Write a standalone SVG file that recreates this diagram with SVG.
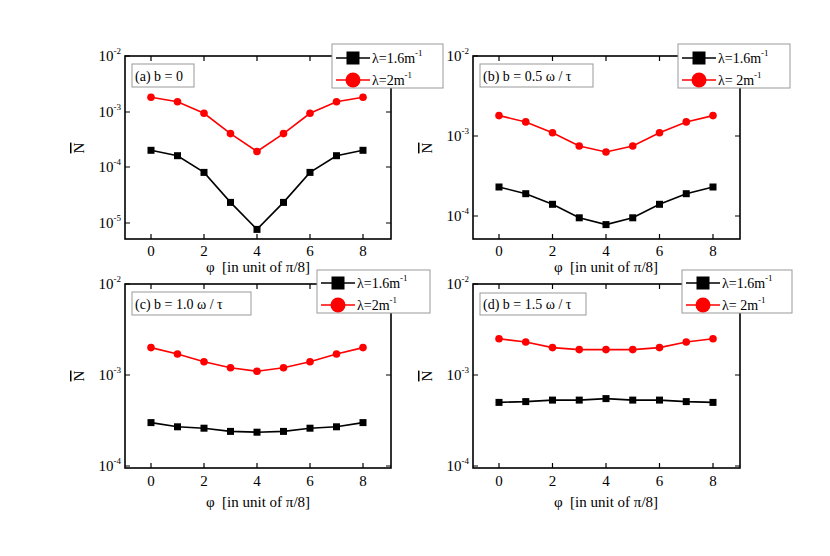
<svg xmlns="http://www.w3.org/2000/svg" width="830" height="556" viewBox="0 0 830 556">
<style>
text{font-family:"Liberation Serif","Times New Roman",serif;fill:#000}
.t{font-size:14px}
.yl{font-size:15px;text-anchor:end}
.xl{font-size:15px;text-anchor:middle}
.sup{font-size:9px}
.frame{fill:none;stroke:#000;stroke-width:1.6}
.tick{stroke:#000;stroke-width:1.2}
.ann{fill:#fff;stroke:#999;stroke-width:1}
.leg{fill:#fff;stroke:#999;stroke-width:1}
.bl{fill:none;stroke:#000;stroke-width:1.6}
.rl{fill:none;stroke:#f00;stroke-width:1.6}
.lab{font-size:15px;text-anchor:middle;white-space:pre}
</style>
<rect width="830" height="556" fill="#fff"/>
<defs>
<rect id="sq" x="-3.5" y="-3.5" width="7" height="7" fill="#000"/>
<circle id="ci" r="3.8" fill="#f00"/>
<rect id="sqL" x="-6.5" y="-6.5" width="13" height="13" fill="#000"/>
<circle id="ciL" r="7.5" fill="#f00"/>
</defs>

<g id="panel-a">
<rect class="frame" x="125" y="56" width="266" height="183"/>
<path class="tick" d="M125,56h5M125,112h5M125,167h5M125,223h5M391,56h-5M391,112h-5M391,167h-5M391,223h-5M151,239v-5M204,239v-5M257,239v-5M310,239v-5M363,239v-5M151,56v5M204,56v5M257,56v5M310,56v5M363,56v5"/>
<text class="yl" x="121" y="61">10<tspan class="sup" dy="-7">-2</tspan></text>
<text class="yl" x="121" y="117">10<tspan class="sup" dy="-7">-3</tspan></text>
<text class="yl" x="121" y="172">10<tspan class="sup" dy="-7">-4</tspan></text>
<text class="yl" x="121" y="228">10<tspan class="sup" dy="-7">-5</tspan></text>
<text class="xl" x="151" y="256">0</text><text class="xl" x="204" y="256">2</text><text class="xl" x="257" y="256">4</text><text class="xl" x="310" y="256">6</text><text class="xl" x="363" y="256">8</text>
<text class="lab" x="258" y="272">φ  [in unit of π/8]</text>
<text class="lab" transform="translate(84,148) rotate(-90)" text-decoration="overline">N</text>
<rect class="ann" x="132" y="64" width="62" height="23"/>
<text class="t" x="135" y="81">(a) b = 0</text>
<polyline class="rl" points="151,97.3 177.5,101.7 204,113.3 230.5,133.6 257,151.5 283.5,133.6 310,113.3 336.5,101.7 363,97.3"/>
<g><use href="#ci" x="151" y="97.3"/><use href="#ci" x="177.5" y="101.7"/><use href="#ci" x="204" y="113.3"/><use href="#ci" x="230.5" y="133.6"/><use href="#ci" x="257" y="151.5"/><use href="#ci" x="283.5" y="133.6"/><use href="#ci" x="310" y="113.3"/><use href="#ci" x="336.5" y="101.7"/><use href="#ci" x="363" y="97.3"/></g>
<polyline class="bl" points="151,150.3 177.5,155.7 204,172.4 230.5,202.4 257,229.4 283.5,202.4 310,172.4 336.5,155.7 363,150.3"/>
<g><use href="#sq" x="151" y="150.3"/><use href="#sq" x="177.5" y="155.7"/><use href="#sq" x="204" y="172.4"/><use href="#sq" x="230.5" y="202.4"/><use href="#sq" x="257" y="229.4"/><use href="#sq" x="283.5" y="202.4"/><use href="#sq" x="310" y="172.4"/><use href="#sq" x="336.5" y="155.7"/><use href="#sq" x="363" y="150.3"/></g>
<rect class="leg" x="332" y="44" width="111" height="44"/>
<line class="bl" x1="336" y1="58" x2="370" y2="58"/><use href="#sqL" x="353" y="58"/>
<text class="t" x="372" y="63">λ=1.6m<tspan class="sup" dy="-7">-1</tspan></text>
<line class="rl" x1="336" y1="80" x2="370" y2="80"/><use href="#ciL" x="353" y="80"/>
<text class="t" x="372" y="85">λ=2m<tspan class="sup" dy="-7">-1</tspan></text>
</g>

<g id="panel-b">
<rect class="frame" x="473" y="56" width="267" height="183"/>
<path class="tick" d="M473,56h5M473,136h5M473,216h5M740,56h-5M740,136h-5M740,216h-5M499,239v-5M552.5,239v-5M606,239v-5M659.5,239v-5M713,239v-5M499,56v5M552.5,56v5M606,56v5M659.5,56v5M713,56v5"/>
<text class="yl" x="469" y="61">10<tspan class="sup" dy="-7">-2</tspan></text>
<text class="yl" x="469" y="141">10<tspan class="sup" dy="-7">-3</tspan></text>
<text class="yl" x="469" y="221">10<tspan class="sup" dy="-7">-4</tspan></text>
<text class="xl" x="499" y="256">0</text><text class="xl" x="552.5" y="256">2</text><text class="xl" x="606" y="256">4</text><text class="xl" x="659.5" y="256">6</text><text class="xl" x="713" y="256">8</text>
<text class="lab" x="606" y="272">φ  [in unit of π/8]</text>
<text class="lab" transform="translate(432,148) rotate(-90)" text-decoration="overline">N</text>
<rect class="ann" x="480" y="64" width="113" height="23"/>
<text class="t" x="483" y="81">(b) b = 0.5 ω / τ</text>
<polyline class="rl" points="499,115.6 525.75,121.9 552.5,132.7 579.25,146 606,152 632.75,146 659.5,132.7 686.25,121.9 713,115.6"/>
<g><use href="#ci" x="499" y="115.6"/><use href="#ci" x="525.75" y="121.9"/><use href="#ci" x="552.5" y="132.7"/><use href="#ci" x="579.25" y="146"/><use href="#ci" x="606" y="152"/><use href="#ci" x="632.75" y="146"/><use href="#ci" x="659.5" y="132.7"/><use href="#ci" x="686.25" y="121.9"/><use href="#ci" x="713" y="115.6"/></g>
<polyline class="bl" points="499,187 525.75,193.7 552.5,204.3 579.25,217.8 606,224.6 632.75,217.8 659.5,204.3 686.25,193.7 713,187"/>
<g><use href="#sq" x="499" y="187"/><use href="#sq" x="525.75" y="193.7"/><use href="#sq" x="552.5" y="204.3"/><use href="#sq" x="579.25" y="217.8"/><use href="#sq" x="606" y="224.6"/><use href="#sq" x="632.75" y="217.8"/><use href="#sq" x="659.5" y="204.3"/><use href="#sq" x="686.25" y="193.7"/><use href="#sq" x="713" y="187"/></g>
<rect class="leg" x="678" y="44" width="112" height="44"/>
<line class="bl" x1="682" y1="58" x2="716" y2="58"/><use href="#sqL" x="699" y="58"/>
<text class="t" x="718" y="63">λ=1.6m<tspan class="sup" dy="-7">-1</tspan></text>
<line class="rl" x1="682" y1="80" x2="716" y2="80"/><use href="#ciL" x="699" y="80"/>
<text class="t" x="718" y="85">λ= 2m<tspan class="sup" dy="-7">-1</tspan></text>
</g>

<g id="panel-c">
<rect class="frame" x="125" y="284" width="266" height="184"/>
<path class="tick" d="M125,284h5M125,375h5M125,466h5M391,284h-5M391,375h-5M391,466h-5M151,468v-5M204,468v-5M257,468v-5M310,468v-5M363,468v-5M151,284v5M204,284v5M257,284v5M310,284v5M363,284v5"/>
<text class="yl" x="121" y="289">10<tspan class="sup" dy="-7">-2</tspan></text>
<text class="yl" x="121" y="380">10<tspan class="sup" dy="-7">-3</tspan></text>
<text class="yl" x="121" y="471">10<tspan class="sup" dy="-7">-4</tspan></text>
<text class="xl" x="151" y="486">0</text><text class="xl" x="204" y="486">2</text><text class="xl" x="257" y="486">4</text><text class="xl" x="310" y="486">6</text><text class="xl" x="363" y="486">8</text>
<text class="lab" x="258" y="507">φ  [in unit of π/8]</text>
<text class="lab" transform="translate(84,376) rotate(-90)" text-decoration="overline">N</text>
<rect class="ann" x="132" y="292" width="119" height="23"/>
<text class="t" x="135" y="309">(c) b = 1.0 ω / τ</text>
<polyline class="rl" points="151,347.6 177.5,354 204,361.7 230.5,367.8 257,371.3 283.5,367.8 310,361.7 336.5,354 363,347.6"/>
<g><use href="#ci" x="151" y="347.6"/><use href="#ci" x="177.5" y="354"/><use href="#ci" x="204" y="361.7"/><use href="#ci" x="230.5" y="367.8"/><use href="#ci" x="257" y="371.3"/><use href="#ci" x="283.5" y="367.8"/><use href="#ci" x="310" y="361.7"/><use href="#ci" x="336.5" y="354"/><use href="#ci" x="363" y="347.6"/></g>
<polyline class="bl" points="151,422.6 177.5,426.8 204,428.2 230.5,431.4 257,432.2 283.5,431.4 310,428.2 336.5,426.8 363,422.6"/>
<g><use href="#sq" x="151" y="422.6"/><use href="#sq" x="177.5" y="426.8"/><use href="#sq" x="204" y="428.2"/><use href="#sq" x="230.5" y="431.4"/><use href="#sq" x="257" y="432.2"/><use href="#sq" x="283.5" y="431.4"/><use href="#sq" x="310" y="428.2"/><use href="#sq" x="336.5" y="426.8"/><use href="#sq" x="363" y="422.6"/></g>
<rect class="leg" x="317" y="270" width="113" height="43"/>
<line class="bl" x1="321" y1="283" x2="355" y2="283"/><use href="#sqL" x="338" y="283"/>
<text class="t" x="357" y="288">λ=1.6m<tspan class="sup" dy="-7">-1</tspan></text>
<line class="rl" x1="321" y1="305" x2="355" y2="305"/><use href="#ciL" x="338" y="305"/>
<text class="t" x="357" y="310">λ=2m<tspan class="sup" dy="-7">-1</tspan></text>
</g>

<g id="panel-d">
<rect class="frame" x="473" y="284" width="267" height="184"/>
<path class="tick" d="M473,284h5M473,375h5M473,466h5M740,284h-5M740,375h-5M740,466h-5M499,468v-5M552.5,468v-5M606,468v-5M659.5,468v-5M713,468v-5M499,284v5M552.5,284v5M606,284v5M659.5,284v5M713,284v5"/>
<text class="yl" x="469" y="289">10<tspan class="sup" dy="-7">-2</tspan></text>
<text class="yl" x="469" y="380">10<tspan class="sup" dy="-7">-3</tspan></text>
<text class="yl" x="469" y="471">10<tspan class="sup" dy="-7">-4</tspan></text>
<text class="xl" x="499" y="486">0</text><text class="xl" x="552.5" y="486">2</text><text class="xl" x="606" y="486">4</text><text class="xl" x="659.5" y="486">6</text><text class="xl" x="713" y="486">8</text>
<text class="lab" x="606" y="507">φ  [in unit of π/8]</text>
<text class="lab" transform="translate(432,376) rotate(-90)" text-decoration="overline">N</text>
<rect class="ann" x="480" y="293" width="106" height="22"/>
<text class="t" x="483" y="309">(d) b = 1.5 ω / τ</text>
<polyline class="rl" points="499,338.8 525.75,342 552.5,347.6 579.25,349.6 606,349.6 632.75,349.6 659.5,347.6 686.25,342 713,338.8"/>
<g><use href="#ci" x="499" y="338.8"/><use href="#ci" x="525.75" y="342"/><use href="#ci" x="552.5" y="347.6"/><use href="#ci" x="579.25" y="349.6"/><use href="#ci" x="606" y="349.6"/><use href="#ci" x="632.75" y="349.6"/><use href="#ci" x="659.5" y="347.6"/><use href="#ci" x="686.25" y="342"/><use href="#ci" x="713" y="338.8"/></g>
<polyline class="bl" points="499,402.4 525.75,401.6 552.5,400.1 579.25,400.1 606,398.6 632.75,400.1 659.5,400.1 686.25,401.6 713,402.4"/>
<g><use href="#sq" x="499" y="402.4"/><use href="#sq" x="525.75" y="401.6"/><use href="#sq" x="552.5" y="400.1"/><use href="#sq" x="579.25" y="400.1"/><use href="#sq" x="606" y="398.6"/><use href="#sq" x="632.75" y="400.1"/><use href="#sq" x="659.5" y="400.1"/><use href="#sq" x="686.25" y="401.6"/><use href="#sq" x="713" y="402.4"/></g>
<rect class="leg" x="682" y="270" width="110" height="43"/>
<line class="bl" x1="686" y1="283" x2="720" y2="283"/><use href="#sqL" x="703" y="283"/>
<text class="t" x="722" y="288">λ=1.6m<tspan class="sup" dy="-7">-1</tspan></text>
<line class="rl" x1="686" y1="305" x2="720" y2="305"/><use href="#ciL" x="703" y="305"/>
<text class="t" x="722" y="310">λ= 2m<tspan class="sup" dy="-7">-1</tspan></text>
</g>
</svg>
